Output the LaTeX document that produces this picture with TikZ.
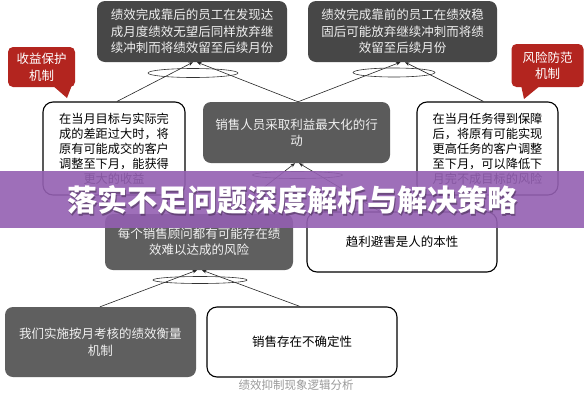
\documentclass[tikz,border=0pt]{standalone}
\usepackage{fontspec}
\newfontfamily\cjk{Noto Sans CJK SC}
\usetikzlibrary{arrows.meta,shapes.geometric}
\definecolor{topdark}{HTML}{474747}
\definecolor{middark}{HTML}{5B5B5B}
\definecolor{lowdark}{HTML}{5F5F5F}
\definecolor{callred}{HTML}{B3251F}
\definecolor{banner}{HTML}{9460B2}
\definecolor{captiongray}{HTML}{9A9A9A}
\tikzset{
  darkbox/.style={rectangle, rounded corners=8pt, fill=#1, draw=none, text=white!94!black,
    inner sep=0pt, align=center, font=\cjk\fontsize{12.5}{16.5}\selectfont},
  whitebox/.style={rectangle, rounded corners=10pt, fill=white, draw=black, line width=1.1pt,
    inner sep=0pt, align=center, font=\cjk\fontsize{12.2}{15}\selectfont},
  callout/.style={rectangle, rounded corners=5pt, fill=callred, draw=none, text=white,
    inner sep=0pt, align=center, font=\cjk\fontsize{12.5}{16.5}\selectfont},
  link/.style={draw=black!85, line width=0.6pt, -{Stealth[length=4.5pt,width=3.5pt]}},
  ring/.style={draw=black!80, line width=0.6pt}
}
\begin{document}
\begin{tikzpicture}[x=1pt,y=-1pt]
\useasboundingbox (0,0) rectangle (584,400);
\fill[white] (0,0) rectangle (584,400);

% top row
\node[darkbox=topdark, minimum width=190pt, minimum height=61pt] (tl) at (192,31.5)
  {绩效完成靠后的员工在发现达\\成月度绩效无望后同样放弃继\\续冲刺而将绩效留至后续月份};
\node[darkbox=topdark, minimum width=189pt, minimum height=61pt] (tr) at (402.5,31.5)
  {绩效完成靠前的员工在绩效稳\\固后可能放弃继续冲刺而将绩\\效留至后续月份};

% callouts
\fill[callred] (52,85) -- (72,85) -- (67,98) -- cycle;
\node[callout, minimum width=67pt, minimum height=40pt] (cl) at (41.5,67) {收益保护\\机制};
\fill[callred] (521,85) -- (541,85) -- (524,99) -- cycle;
\node[callout, minimum width=72pt, minimum height=43pt] (cr) at (547.5,65.5) {风险防范\\机制};

% middle row
\node[whitebox, minimum width=142pt, minimum height=93pt] (lw) at (114,148.5)
  {在当月目标与实际完\\成的差距过大时，将\\原有可能成交的客户\\调整至下月，能获得\\更大的收益};
\node[darkbox=middark, minimum width=187pt, minimum height=61pt] (c) at (296.5,132.5)
  {销售人员采取利益最大化的行\\动};
\node[whitebox, minimum width=141pt, minimum height=93pt] (rw) at (487.5,148.5)
  {在当月任务得到保障\\后，将原有可能实现\\更高任务的客户调整\\至下月，可以降低下\\月完不成目标的风险};

% lower row
\node[darkbox=lowdark, minimum width=188pt, minimum height=56pt] (md) at (199,242)
  {每个销售顾问都有可能存在绩\\效难以达成的风险};
\node[whitebox, minimum width=190pt, minimum height=60pt, font=\cjk\fontsize{12.5}{16}\selectfont] (mw) at (402,242)
  {趋利避害是人的本性};

% bottom row
\node[darkbox=lowdark, minimum width=191pt, minimum height=70pt] (bd) at (100.5,342)
  {我们实施按月考核的绩效衡量\\机制};
\node[whitebox, minimum width=190pt, minimum height=70pt, font=\cjk\fontsize{12.5}{16}\selectfont] (bw) at (302,342)
  {销售存在不确定性};

% connectors
\draw[link] ([xshift=3pt]lw.north) -- ([xshift=1pt]tl.south);
\draw[link] ([xshift=1.5pt]c.north) -- ([xshift=5pt]tl.south);
\draw[link] ([xshift=1.5pt]c.north) -- ([xshift=-2pt]tr.south);
\draw[link] ([xshift=-4pt]rw.north) -- ([xshift=2.5pt]tr.south);
\draw[link] ([xshift=31pt]md.north) -- ([xshift=-1.5pt]c.south);
\draw[link] ([xshift=-22pt]mw.north) -- ([xshift=2.5pt]c.south);
\draw[link] ([xshift=-0.5pt]bd.north) -- ([xshift=-2pt]md.south);
\draw[link] ([xshift=-2pt]bw.north) -- ([xshift=3pt]md.south);

% ellipses
\draw[ring] (193,73) ellipse [x radius=45pt, y radius=4.5pt];
\draw[ring] (394,72.5) ellipse [x radius=41pt, y radius=4.5pt];
\draw[ring] (297.5,175) ellipse [x radius=45pt, y radius=3.5pt];
\draw[ring] (200,280) ellipse [x radius=47pt, y radius=3.5pt];

% caption
\node[font=\cjk\fontsize{11.5}{14}\selectfont, text=captiongray] (cap) at (296,385) {绩效抑制现象逻辑分析};

% banner
\fill[banner, opacity=0.9] (0,171) rectangle (584,228);
\node[font=\cjk\bfseries\fontsize{30}{34}\selectfont, text=black!60!banner, opacity=0.5] (tsh) at (293.5,201.5) {落实不足问题深度解析与解决策略};
\node[font=\cjk\bfseries\fontsize{30}{34}\selectfont, text=white] (title) at (292.5,200) {落实不足问题深度解析与解决策略};
\end{tikzpicture}
\end{document}
